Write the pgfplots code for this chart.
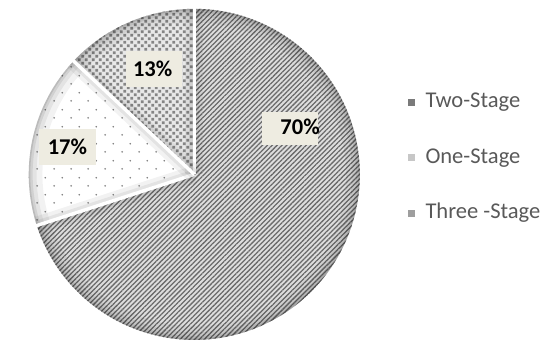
\documentclass[border=0pt]{standalone}
\usepackage{fontspec}
\setmainfont{Carlito}
\usepackage{pgfplots}
\usepackage{pgfplotstable}
\pgfplotsset{compat=1.18}
\usetikzlibrary{patterns,patterns.meta}

\definecolor{stripec}{HTML}{6A6A6A}
\definecolor{twobg}{HTML}{DEDEDE}
\definecolor{threebg}{HTML}{E8E8E8}
\definecolor{threesq}{HTML}{858585}
\definecolor{dotc}{HTML}{7A7A7A}
\definecolor{labbg}{HTML}{EEECE1}
\definecolor{legtext}{HTML}{595959}

\tikzdeclarepattern{
  name=onedots, type=uncolored,
  bottom left={(0pt,0pt)}, top right={(17pt,17pt)},
  tile size={(17pt,17pt)},
  code={\fill (4.25pt,4.25pt) circle (0.95pt); \fill (12.75pt,12.75pt) circle (0.95pt);}
}
\tikzdeclarepattern{
  name=threesq, type=uncolored,
  bottom left={(0pt,0pt)}, top right={(7.6pt,7.6pt)},
  tile size={(7.6pt,7.6pt)},
  code={\fill (0.3pt,0.3pt) rectangle (3.3pt,3.3pt); \fill (4.1pt,4.1pt) rectangle (7.1pt,7.1pt);}
}

\pgfplotstableread{
label value
Two-Stage 70
One-Stage 17
Three-Stage 13
}\piedata

\begin{document}
\pgfplotstablegetelem{0}{value}\of\piedata \let\vA\pgfplotsretval
\pgfplotstablegetelem{1}{value}\of\piedata \let\vB\pgfplotsretval
\pgfplotstablegetelem{2}{value}\of\piedata \let\vC\pgfplotsretval
\pgfmathsetmacro{\aA}{90}
\pgfmathsetmacro{\aB}{\aA-3.6*\vA}
\pgfmathsetmacro{\aC}{\aB-3.6*\vB}
\pgfmathsetmacro{\aD}{\aC-3.6*\vC}
\def\cx{187}\def\cy{168}\def\R{169}
\begin{tikzpicture}
\begin{axis}[
  hide axis, scale only axis,
  width=546pt, height=345pt,
  xmin=0, xmax=546, ymin=0, ymax=345,
  clip=false,
  legend style={at={(axis cs:405.5,252)}, anchor=north west, draw=none, fill=none,
    inner sep=0pt, outer sep=0pt, row sep=35.5pt,
    font=\fontsize{23}{23}\selectfont, text=legtext,
    nodes={inner sep=0pt, text height=16pt, text depth=5pt, anchor=base west},
    /tikz/every odd column/.style={column sep=10.5pt}},
  legend cell align=left,
  legend image code/.code={\path[#1] (0pt,2pt) rectangle (7pt,9pt);},
]
\path (rel axis cs:0,0) rectangle (rel axis cs:1,1);
\addlegendimage{draw=none, fill=black!52}
\addlegendimage{draw=none, fill=black!22}
\addlegendimage{draw=none, fill=black!38}
% slices
\addplot[forget plot, draw=none, fill=twobg, postaction={pattern={Lines[angle=45,distance=3.5pt,line width=1.3pt]}, pattern color=stripec},
  domain=\aB:\aA, samples=150] ({\cx+\R*cos(x)},{\cy+\R*sin(x)}) -- (axis cs:\cx,\cy) -- cycle;
\addplot[forget plot, draw=none, fill=white, postaction={pattern=onedots, pattern color=dotc},
  domain=\aC:\aB, samples=60] ({\cx+\R*cos(x)},{\cy+\R*sin(x)}) -- (axis cs:\cx,\cy) -- cycle;
\addplot[forget plot, draw=none, fill=threebg, postaction={pattern=threesq, pattern color=threesq},
  domain=\aD:\aC, samples=50] ({\cx+\R*cos(x)},{\cy+\R*sin(x)}) -- (axis cs:\cx,\cy) -- cycle;
\legend{Two-Stage, One-Stage, Three -Stage}
% rim shading (soft inner edge)
\addplot[forget plot, draw=black, draw opacity=0.05, line width=14pt, domain=0:360, samples=240] ({\cx+(\R-7)*cos(x)},{\cy+(\R-7)*sin(x)});
\addplot[forget plot, draw=black, draw opacity=0.06, line width=8pt, domain=0:360, samples=240] ({\cx+(\R-4)*cos(x)},{\cy+(\R-4)*sin(x)});
\addplot[forget plot, draw=black, draw opacity=0.08, line width=4pt, domain=0:360, samples=240] ({\cx+(\R-2)*cos(x)},{\cy+(\R-2)*sin(x)});
\addplot[forget plot, draw=black, draw opacity=0.10, line width=1.6pt, domain=0:360, samples=240] ({\cx+(\R-0.8)*cos(x)},{\cy+(\R-0.8)*sin(x)});
% shadows beside separators
\foreach \ang in {\aA,\aB,\aC}{
\addplot[forget plot, black, opacity=0.05, line width=18pt, domain=0:\R, samples=2] ({\cx+x*cos(\ang)},{\cy+x*sin(\ang)});
\addplot[forget plot, black, opacity=0.06, line width=10pt, domain=0:\R, samples=2] ({\cx+x*cos(\ang)},{\cy+x*sin(\ang)});
\addplot[forget plot, white, line width=3.5pt, domain=0:\R+3, samples=2] ({\cx+x*cos(\ang)},{\cy+x*sin(\ang)});
}
% labels
\node[fill=labbg, minimum width=57pt, minimum height=34pt, inner sep=0pt] at (axis cs:285,215) {};
\node[font=\bfseries\fontsize{23}{23}\selectfont, inner sep=0pt] at (axis cs:295,216.5) {70\%};
\node[fill=labbg, minimum width=57pt, minimum height=37pt, inner sep=0pt] at (axis cs:145.5,275.5) {};
\node[font=\bfseries\fontsize{23}{23}\selectfont, inner sep=0pt] at (axis cs:144.5,275.5) {13\%};
\node[fill=labbg, minimum width=58pt, minimum height=36pt, inner sep=0pt] at (axis cs:58,196) {};
\node[font=\bfseries\fontsize{23}{23}\selectfont, inner sep=0pt] at (axis cs:57.5,196) {17\%};
\end{axis}
\end{tikzpicture}
\end{document}
